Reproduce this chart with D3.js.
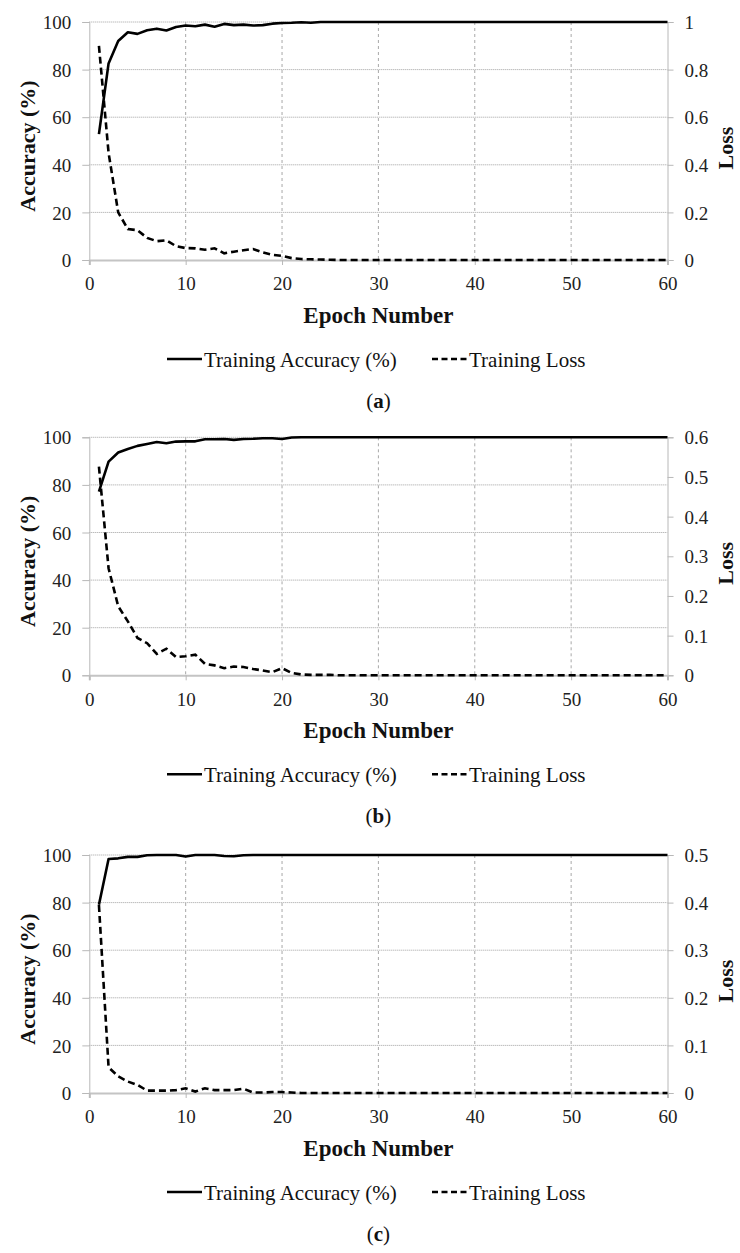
<!DOCTYPE html>
<html>
<head>
<meta charset="utf-8">
<script src="https://cdn.jsdelivr.net/npm/d3@7"></script>
<style>
    body { margin: 0; background: #fff; }
    svg { display: block; }
</style>
</head>
<body>
<div id="chart"></div>
<script>
var epochs = [
    1, 2, 3, 4, 5, 6, 7, 8, 9, 10,
    11, 12, 13, 14, 15, 16, 17, 18, 19, 20,
    21, 22, 23, 24, 25, 26, 27, 28, 29, 30,
    31, 32, 33, 34, 35, 36, 37, 38, 39, 40,
    41, 42, 43, 44, 45, 46, 47, 48, 49, 50,
    51, 52, 53, 54, 55, 56, 57, 58, 59, 60]

// (a)
var accA = [
    52.9, 82.6, 92.0, 95.7, 95.0, 96.5, 97.2, 96.4, 97.9, 98.5,
    98.2, 98.9, 98.0, 99.2, 98.7, 98.9, 98.5, 98.7, 99.3, 99.6,
    99.7, 99.9, 99.7, 100, 100, 100, 100, 100, 100, 100,
    100, 100, 100, 100, 100, 100, 100, 100, 100, 100,
    100, 100, 100, 100, 100, 100, 100, 100, 100, 100,
    100, 100, 100, 100, 100, 100, 100, 100, 100, 100]
var lossA = [
    0.90, 0.45, 0.20, 0.13, 0.125, 0.093, 0.079, 0.083, 0.058, 0.050,
    0.049, 0.043, 0.049, 0.028, 0.035, 0.041, 0.046, 0.032, 0.022, 0.017,
    0.008, 0.004, 0.003, 0.002, 0.001, 0, 0, 0, 0, 0,
    0, 0, 0, 0, 0, 0, 0, 0, 0, 0,
    0, 0, 0, 0, 0, 0, 0, 0, 0, 0,
    0, 0, 0, 0, 0, 0, 0, 0, 0, 0]

// (b)
var accB = [
    77.2, 89.8, 93.6, 95.1, 96.4, 97.2, 98.0, 97.5, 98.2, 98.3,
    98.3, 99.2, 99.2, 99.3, 98.9, 99.3, 99.4, 99.6, 99.6, 99.3,
    99.9, 100, 100, 100, 100, 100, 100, 100, 100, 100,
    100, 100, 100, 100, 100, 100, 100, 100, 100, 100,
    100, 100, 100, 100, 100, 100, 100, 100, 100, 100,
    100, 100, 100, 100, 100, 100, 100, 100, 100, 100]
var lossB = [
    0.526, 0.27, 0.174, 0.136, 0.094, 0.081, 0.054, 0.067, 0.046, 0.048,
    0.052, 0.029, 0.025, 0.018, 0.022, 0.021, 0.016, 0.012, 0.008, 0.018,
    0.006, 0.002, 0.001, 0.001, 0.001, 0, 0, 0, 0, 0,
    0, 0, 0, 0, 0, 0, 0, 0, 0, 0,
    0, 0, 0, 0, 0, 0, 0, 0, 0, 0,
    0, 0, 0, 0, 0, 0, 0, 0, 0, 0]

// (c)
var accC = [
    79.1, 98.3, 98.6, 99.2, 99.2, 99.9, 100, 100, 100, 99.4,
    100, 100, 100, 99.6, 99.5, 99.9, 100, 100, 100, 100,
    100, 100, 100, 100, 100, 100, 100, 100, 100, 100,
    100, 100, 100, 100, 100, 100, 100, 100, 100, 100,
    100, 100, 100, 100, 100, 100, 100, 100, 100, 100,
    100, 100, 100, 100, 100, 100, 100, 100, 100, 100]
var lossC = [
    0.395, 0.054, 0.035, 0.024, 0.017, 0.005, 0.005, 0.005, 0.006, 0.010,
    0.003, 0.010, 0.006, 0.006, 0.006, 0.009, 0.001, 0.001, 0.002, 0.002,
    0.001, 0, 0, 0, 0, 0, 0, 0, 0, 0,
    0, 0, 0, 0, 0, 0, 0, 0, 0, 0,
    0, 0, 0, 0, 0, 0, 0, 0, 0, 0,
    0, 0, 0, 0, 0, 0, 0, 0, 0, 0]

var xTicks = [0, 10, 20, 30, 40, 50, 60]
var accTicks = [0, 20, 40, 60, 80, 100]
var lossTicksA = [0, 0.2, 0.4, 0.6, 0.8, 1]
var lossTicksB = [0, 0.1, 0.2, 0.3, 0.4, 0.5, 0.6]
var lossTicksC = [0, 0.1, 0.2, 0.3, 0.4, 0.5]
var legendLabels = ["Training Accuracy (%)", "Training Loss"]
var captions = ["a", "b", "c"]

var width = 740
var height = 1253
var left = 89.3, right = 667.5
var plotH = 238
var serif = "'Liberation Serif', 'Times New Roman', serif"

var svg = d3.select("#chart")
    .append("svg")
        .attr("width", width)
        .attr("height", height)

var x = d3.scaleLinear()
    .domain([0, 60])
    .range([left, right])

function panel(top, acc, loss, lossMax, lossTicks, cap) {
    var g = svg.append("g")

    var y = d3.scaleLinear()
        .domain([0, 100])
        .range([top + plotH, top])
    var y2 = d3.scaleLinear()
        .domain([0, lossMax])
        .range([top + plotH, top])

    // horizontal grid (dotted)
    g.append("g")
        .selectAll("line")
        .data(accTicks.filter(d => d > 0))
        .enter()
        .append("line")
            .attr("x1", left)
            .attr("x2", right)
            .attr("y1", d => y(d))
            .attr("y2", d => y(d))
            .attr("stroke", "#a0a0a0")
            .attr("stroke-width", 1)
            .attr("stroke-dasharray", "1,1")

    // vertical grid (dashed)
    g.append("g")
        .selectAll("line")
        .data(xTicks.filter(d => d > 0 && d < 60))
        .enter()
        .append("line")
            .attr("x1", d => x(d))
            .attr("x2", d => x(d))
            .attr("y1", top)
            .attr("y2", top + plotH)
            .attr("stroke", "#a8a8a8")
            .attr("stroke-width", 1)
            .attr("stroke-dasharray", "3,3")

    // left axis
    var yAxis = g.append("g")
        .attr("transform", "translate(" + left + ",0)")
        .call(d3.axisLeft(y).tickValues(accTicks).tickSize(7).tickPadding(11))
    yAxis.select(".domain").attr("stroke", "#b8b8b8")
    yAxis.selectAll(".tick line").attr("stroke", "#b8b8b8")
    yAxis.selectAll("text")
        .attr("font-family", serif)
        .attr("font-size", 19)
        .attr("fill", "#222")
        .attr("dy", "0.35em")

    // right axis
    var y2Axis = g.append("g")
        .attr("transform", "translate(" + right + ",0)")
        .call(d3.axisRight(y2).tickValues(lossTicks).tickSize(6).tickPadding(11)
            .tickFormat(d => d3.format("")(+d.toFixed(1))))
    y2Axis.select(".domain").attr("stroke", "#b8b8b8")
    y2Axis.selectAll(".tick line").attr("stroke", "#b8b8b8")
    y2Axis.selectAll("text")
        .attr("font-family", serif)
        .attr("font-size", 19)
        .attr("fill", "#222")
        .attr("dy", "0.35em")

    // x axis
    var xAxis = g.append("g")
        .attr("transform", "translate(0," + (top + plotH) + ")")
        .call(d3.axisBottom(x).tickValues(xTicks).tickSize(5).tickPadding(12))
    xAxis.select(".domain").attr("stroke", "#c4c4c4").attr("stroke-width", 2)
    xAxis.selectAll(".tick line").attr("stroke", "#b8b8b8")
    xAxis.selectAll("text")
        .attr("font-family", serif)
        .attr("font-size", 19)
        .attr("fill", "#222")

    // lines
    var accLine = d3.line()
        .x((d, i) => x(epochs[i]))
        .y(d => y(d))
    var lossLine = d3.line()
        .x((d, i) => x(epochs[i]))
        .y(d => y2(d))

    g.append("path")
        .datum(acc)
        .attr("d", accLine)
        .attr("fill", "none")
        .attr("stroke", "#000")
        .attr("stroke-width", 2.6)
        .attr("stroke-linejoin", "round")

    g.append("path")
        .datum(loss)
        .attr("d", lossLine)
        .attr("fill", "none")
        .attr("stroke", "#000")
        .attr("stroke-width", 2.6)
        .attr("stroke-dasharray", "7,4")

    // axis titles
    g.append("text")
        .attr("transform", "translate(27," + (top + plotH / 2 + 5) + ") rotate(-90)")
        .attr("text-anchor", "middle")
        .attr("dy", "0.35em")
        .attr("font-family", serif)
        .attr("font-weight", "bold")
        .attr("font-size", 22)
        .attr("fill", "#111")
        .text("Accuracy (%)")

    g.append("text")
        .attr("transform", "translate(725," + (top + plotH / 2 + 7) + ") rotate(-90)")
        .attr("text-anchor", "middle")
        .attr("dy", "0.35em")
        .attr("font-family", serif)
        .attr("font-weight", "bold")
        .attr("font-size", 22)
        .attr("fill", "#111")
        .text("Loss")

    g.append("text")
        .attr("x", (left + right) / 2)
        .attr("y", top + 300.7)
        .attr("text-anchor", "middle")
        .attr("font-family", serif)
        .attr("font-weight", "bold")
        .attr("font-size", 23)
        .attr("fill", "#111")
        .text("Epoch Number")

    // legend
    var ly = top + 337
    g.append("line")
        .attr("x1", 167).attr("x2", 202)
        .attr("y1", ly).attr("y2", ly)
        .attr("stroke", "#000")
        .attr("stroke-width", 2.6)
    g.append("text")
        .attr("x", 204)
        .attr("y", ly + 7.5)
        .attr("font-family", serif)
        .attr("font-size", 21)
        .attr("fill", "#111")
        .text(legendLabels[0])
    g.append("line")
        .attr("x1", 432).attr("x2", 468)
        .attr("y1", ly).attr("y2", ly)
        .attr("stroke", "#000")
        .attr("stroke-width", 2.6)
        .attr("stroke-dasharray", "6,3.5")
    g.append("text")
        .attr("x", 469)
        .attr("y", ly + 7.5)
        .attr("font-family", serif)
        .attr("font-size", 21)
        .attr("fill", "#111")
        .text(legendLabels[1])

    // caption
    var c = g.append("text")
        .attr("x", (left + right) / 2)
        .attr("y", top + 386)
        .attr("text-anchor", "middle")
        .attr("font-family", serif)
        .attr("font-size", 21)
        .attr("fill", "#111")
    c.append("tspan").text("(")
    c.append("tspan").attr("font-weight", "bold").text(cap)
    c.append("tspan").text(")")
}

panel(22, accA, lossA, 1, lossTicksA, captions[0])
panel(437.3, accB, lossB, 0.6, lossTicksB, captions[1])
panel(855, accC, lossC, 0.5, lossTicksC, captions[2])
</script>
</body>
</html>
